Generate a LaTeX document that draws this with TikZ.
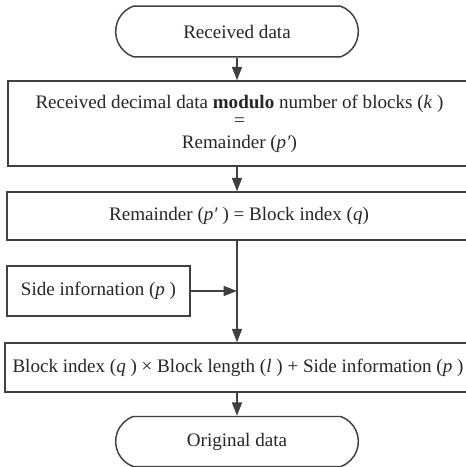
\documentclass[tikz,border=0pt]{standalone}
\usepackage{fontspec}
\setmainfont{Liberation Serif}
\usetikzlibrary{arrows.meta,positioning,shapes.misc}
\tikzset{
  box/.style={draw=black!75,line width=1.1pt,rectangle,inner sep=0pt,
    text=black!85,align=center},
  term/.style={draw=black!75,line width=1.1pt,rounded rectangle,
    rounded rectangle arc length=140,inner sep=0pt,
    text=black!85,minimum width=182pt,minimum height=38pt},
  every node/.style={font=\fontsize{14.3}{15}\selectfont}
}
\tikzstyle{arrow} = [draw=black!75,line width=1.1pt,-{Triangle[length=10pt,width=7.5pt]}]

\begin{document}
\begin{tikzpicture}[x=0.75pt,y=-0.75pt]
  \useasboundingbox (0,0) rectangle (466,467);
  \node[term] (start) at (237,31.5) {Received data};
  \node[box,minimum width=347.25pt,minimum height=63.75pt] (mod) at (239.5,123.5)
    {Received decimal data \textbf{modulo} number of blocks (\textit{k}\ )\\[-1pt]
     =\\[1pt] Remainder (\textit{p′})};
  \node[box,minimum width=348pt,minimum height=36pt] (eq) at (239,216)
    {Remainder (\textit{p′}\ ) = Block index (\textit{q})};
  \node[box,minimum width=137.25pt,minimum height=37.5pt] (side) at (98.5,291)
    {Side infornation (\textit{p}\ )};
  \node[box,minimum width=349.5pt,minimum height=36.75pt] (sum) at (238,367.5)
    {Block index (\textit{q}\ ) × Block length (\textit{l}\ ) + Side information (\textit{p}\ )};
  \node[term,minimum height=37.5pt] (stop) at (237,441.5) {Original data};
  \coordinate (join) at (start.south |- side.east);
  % main flow
  \draw[arrow] (start.south) -- (start.south |- mod.north);
  \draw[arrow] (start.south |- mod.south) -- (start.south |- eq.north);
  \draw[arrow] (start.south |- eq.south) -- (start.south |- sum.north);
  \draw[arrow] (side.east) -- (join);
  \draw[arrow] (start.south |- sum.south) -- (stop.north);
\end{tikzpicture}
\end{document}
